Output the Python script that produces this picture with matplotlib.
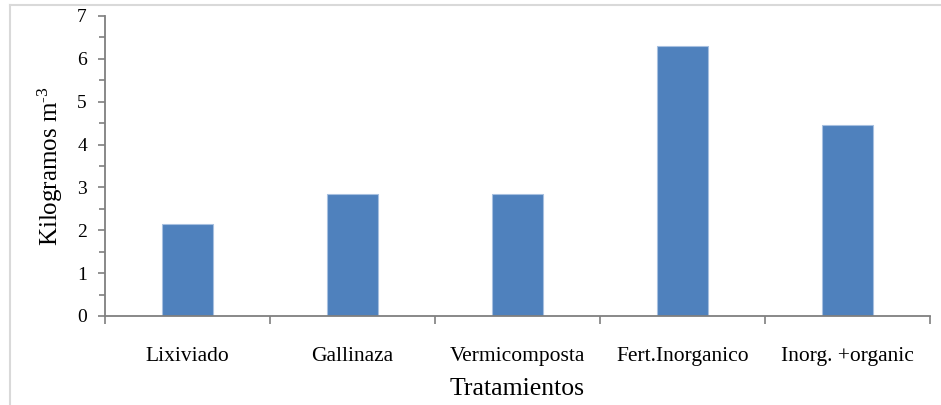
import matplotlib
matplotlib.use("Agg")
import matplotlib.pyplot as plt
from matplotlib.lines import Line2D
from matplotlib.ticker import MultipleLocator, FixedLocator, NullFormatter, FixedFormatter

plt.rcParams["font.family"] = ["Liberation Serif", "DejaVu Serif"]
plt.rcParams["mathtext.default"] = "regular"

categories = ["Lixiviado", "Gallinaza", "Vermicomposta", "Fert.Inorganico", "Inorg. +organic"]
values = [2.14, 2.84, 2.84, 6.30, 4.46]

W, H = 941, 405
fig = plt.figure(figsize=(W / 100, H / 100), dpi=100)
ax = fig.add_axes([105 / W, 1 - 316 / H, (930 - 105) / W, 300 / H])

# light grey outer frame (top and left edges visible)
fig.add_artist(Line2D([10 / W, 1], [1 - 5 / H, 1 - 5 / H], color="#d9d9d9", lw=1.5,
                      transform=fig.transFigure))
fig.add_artist(Line2D([10 / W, 10 / W], [0, 1 - 5 / H], color="#d9d9d9", lw=1.5,
                      transform=fig.transFigure))

x = list(range(len(categories)))
ax.bar(x, values, width=0.31, color="#4F81BD", edgecolor="#a7c0e0", linewidth=0.8, zorder=2)

ax.set_xlim(-0.5, len(categories) - 0.5)
ax.set_ylim(0, 7)

ax.yaxis.set_major_locator(MultipleLocator(1))
ax.yaxis.set_minor_locator(MultipleLocator(0.5))
ax.xaxis.set_major_locator(FixedLocator([i - 0.5 for i in range(len(categories) + 1)]))
ax.xaxis.set_major_formatter(NullFormatter())
ax.xaxis.set_minor_locator(FixedLocator(x))
ax.xaxis.set_minor_formatter(FixedFormatter(categories))

for s in ["top", "right"]:
    ax.spines[s].set_visible(False)
for s in ["left", "bottom"]:
    ax.spines[s].set_color("#7f7f7f")
    ax.spines[s].set_linewidth(1.3)

ax.tick_params(axis="y", which="both", direction="out", color="#7f7f7f", width=1.2,
               labelsize=14, pad=8)
ax.tick_params(axis="y", which="major", length=5)
ax.tick_params(axis="y", which="minor", length=4)
ax.tick_params(axis="x", which="major", direction="out", length=6, color="#7f7f7f", width=1.2)
ax.tick_params(axis="x", which="minor", length=0, labelsize=15.5, pad=22)

ax.set_ylabel("Kilogramos m$^{\u20103}$", fontsize=18, labelpad=9)
ax.set_xlabel("Tratamientos", fontsize=18.5, labelpad=9)

fig.savefig("out.png", dpi=100)
